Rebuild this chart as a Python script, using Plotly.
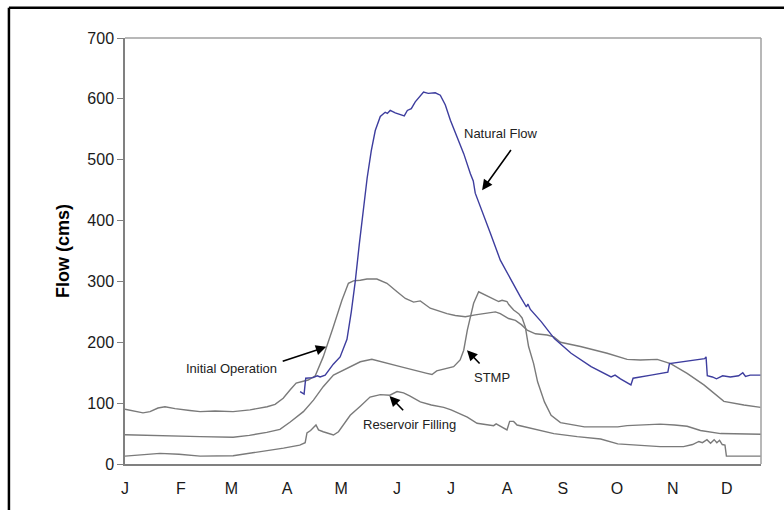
import plotly.graph_objects as go

# Month labels placed at the first day of each month (day-of-year, 0-based)
month_days = [0, 31, 59, 90, 120, 151, 181, 212, 243, 273, 304, 334]
month_labels = ["J", "F", "M", "A", "M", "J", "J", "A", "S", "O", "N", "D"]

# Natural Flow (cms)
natural_day = [97.2, 99.4, 100.3, 104.4, 106.7, 108.3, 111.1, 115.6, 119.4, 121.0,
               123.2, 125.6, 127.8, 130.0, 132.2, 134.4, 136.7, 138.9, 141.7, 144.4,
               145.6, 147.2, 150.0, 152.8, 155.0, 156.7, 158.9, 161.1, 163.9, 165.7,
               168.3, 172.2, 175.0, 177.8, 180.6, 184.3, 188.0, 191.7, 193.3, 194.4,
               197.2, 202.8, 208.3, 214.3, 219.4, 222.8, 223.6, 225.0, 231.0, 238.3,
               247.6, 258.7, 269.8, 272.0, 275.0, 280.8, 282.0, 292.0, 301.3, 302.2,
               310.6, 321.7, 322.5, 323.2, 326.0, 328.3, 331.7, 336.0, 340.6, 342.9,
               344.4, 347.0, 353.0]
natural_flow = [119, 115, 141, 142, 145, 143, 146, 164, 176, 188,
                205, 250, 300, 360, 420, 470, 515, 548, 571, 578,
                576, 581, 577, 574, 572, 581, 584, 595, 605, 611,
                609, 610, 606, 590, 565, 537, 510, 477, 465, 445,
                422, 379, 335, 302, 275, 258, 263, 254, 234, 206,
                182, 160, 143, 146, 140, 130, 141, 146, 151, 165,
                168, 173, 176, 145, 143, 140, 145, 143, 145, 150,
                144, 146, 146]

# Initial Operation (cms)
initial_day = [0, 5.6, 10, 13.9, 18.3, 22.2, 27.8, 36, 41.7, 50,
               60, 69.4, 78.9, 83.3, 87.8, 91.7, 95, 98.9, 101.7, 105.6,
               110, 115.6, 120.4, 124, 126.8, 130.6, 134.3, 139.8, 141.7, 145.4,
               151, 155.6, 160.2, 163.9, 169.4, 178.7, 183.3, 188.9, 194.4, 200,
               205.6, 208.3, 212.9, 216.7, 220, 223.2, 227.8, 234.3, 238, 241.7,
               252.8, 267.6, 278.7, 286, 295.4, 302.8, 312, 321.3, 332.4, 343.5,
               352.8]
initial_flow = [90, 87, 84, 86, 92, 94, 91, 88, 86, 87,
                86, 89, 94, 98, 108, 122, 133, 136, 138, 145,
                176, 225, 269, 297, 301, 302, 304, 304, 302, 297,
                283, 272, 266, 268, 256, 247, 244, 242, 245, 248,
                250, 247, 239, 236, 229, 220, 214, 212, 209, 200,
                193, 182, 172, 171, 172, 165, 149, 130, 103, 97,
                93]

# STMP (cms)
stmp_day = [0, 23, 41.7, 60, 69, 78.7, 86, 91.7, 99, 104.6,
            110, 115.7, 123, 130.6, 137, 145.4, 152.8, 167.6, 170.4, 173,
            182.4, 186, 188, 190, 193.5, 196.3, 200, 203.7, 207.4, 209.3,
            212, 213, 215.7, 218.5, 220.4, 222.2, 224, 226.8, 229, 232.8,
            236.5, 241.7, 245, 255, 260, 273.5, 278.7, 297, 305, 312,
            319.4, 330.6, 353]
stmp_flow = [48, 46, 45, 44, 47, 52, 57, 69, 86, 105,
             127, 146, 157, 168, 172, 165, 160, 149, 147, 153,
             160, 171, 187, 220, 264, 283, 278, 273, 267, 269,
             267, 262, 253, 247, 240, 225, 193, 165, 135, 102,
             80, 68, 66, 61, 61, 61, 63, 65.5, 64, 62,
             55, 50, 49]

# Reservoir Filling (cms)
filling_day = [0, 10, 19.4, 30, 41.7, 60, 75, 88, 97, 100,
               101, 103, 106, 107.4, 110, 114, 115.7, 118.5, 122, 125,
               130.6, 136, 141.7, 147, 151, 154.6, 158, 163.9, 170, 176.9,
               181, 186, 190, 195.4, 204.6, 206, 212, 213.5, 215.7, 217.6,
               226.8, 238, 251, 264, 273.5, 286, 297, 310, 315, 318.5,
               320.5, 323, 325, 327, 328.5, 330, 331.5, 333, 333.8, 353]
filling_flow = [13, 15, 17.5, 16, 13, 13.5, 20, 26, 31, 35,
                51, 55, 64, 56, 53, 50, 47.6, 53, 68, 80,
                95, 110, 114, 113, 119, 117, 112, 102, 97, 93,
                89, 83, 77, 67, 63, 66, 56, 70, 70, 64,
                58, 50, 45, 41, 33, 30, 28.5, 28.5, 32, 37,
                35, 40, 34, 40, 35, 39, 32, 31, 13, 13]

GRAY = "#7a7a7a"
BLUE = "#3d3d9e"
FONT = "Liberation Sans, Arial, sans-serif"

fig = go.Figure()
for xs, ys, color in [
    (initial_day, initial_flow, GRAY),
    (stmp_day, stmp_flow, GRAY),
    (filling_day, filling_flow, GRAY),
    (natural_day, natural_flow, BLUE),
]:
    fig.add_trace(go.Scatter(x=xs, y=ys, mode="lines",
                             line=dict(color=color, width=1.4),
                             showlegend=False, hoverinfo="skip"))

# Curve labels with their pointer arrows
labels = [
    ("Natural Flow", 208.6, 543.5, (198.2, 450), (214.8, 518.4)),
    ("Initial Operation", 58.9, 157.6, (111.7, 192.6), (86.7, 168)),
    ("STMP", 203.9, 142.9, (189.8, 187), (197.6, 162.6)),
    ("Reservoir Filling", 157.8, 65.7, (146.8, 111.7), (155.2, 85.9)),
]
annotations = []
for text, tx, ty, tip, tail in labels:
    annotations.append(dict(x=tx, y=ty, xref="x", yref="y", text=text,
                            showarrow=False,
                            font=dict(family=FONT, size=13, color="#222222")))
    annotations.append(dict(x=tip[0], y=tip[1], ax=tail[0], ay=tail[1],
                            xref="x", yref="y", axref="x", ayref="y", text="",
                            showarrow=True, arrowhead=2, arrowsize=1.3,
                            arrowwidth=1.6, arrowcolor="#000000"))

annotations.append(dict(x=-0.0975, y=0.5, xref="paper", yref="paper",
                        text="<b>Flow (cms)</b>", textangle=-90, showarrow=False,
                        xanchor="center", yanchor="middle",
                        font=dict(family=FONT, size=18, color="#000000")))

shapes = [
    # outer frame: only its top and left edges fall on the page
    dict(type="line", xref="paper", yref="paper", x0=-0.1825, x1=1.2,
         y0=1.0708, y1=1.0708, line=dict(color="#000000", width=2.5)),
    dict(type="line", xref="paper", yref="paper", x0=-0.1825, x1=-0.1825,
         y0=-0.2, y1=1.0708, line=dict(color="#000000", width=2.5)),
    # top and right edges of the plot area
    dict(type="line", xref="paper", yref="paper", x0=0, x1=1, y0=1, y1=1,
         line=dict(color="#a0a0a0", width=1.5)),
    dict(type="line", xref="paper", yref="paper", x0=1, x1=1, y0=0, y1=1,
         line=dict(color="#a0a0a0", width=1.5)),
]

fig.update_layout(
    width=784, height=510, autosize=False,
    margin=dict(l=125, r=23, t=38, b=46),
    paper_bgcolor="white", plot_bgcolor="white",
    font=dict(family=FONT, color="#1a1a1a"),
    annotations=annotations, shapes=shapes,
    xaxis=dict(range=[0, 353], tickvals=month_days, ticktext=month_labels,
               showgrid=False, zeroline=False, showline=True,
               linecolor="#808080", linewidth=2,
               ticks="outside", ticklen=9, tickcolor="rgba(0,0,0,0)",
               tickfont=dict(size=16, family=FONT, color="#1a1a1a")),
    yaxis=dict(range=[0, 700], dtick=100, showgrid=False, zeroline=False,
               showline=True, linecolor="#808080", linewidth=1.5,
               ticks="outside", ticklen=6, tickcolor="#808080",
               tickfont=dict(size=16, family=FONT, color="#1a1a1a")),
)

fig.write_html("out.html")
